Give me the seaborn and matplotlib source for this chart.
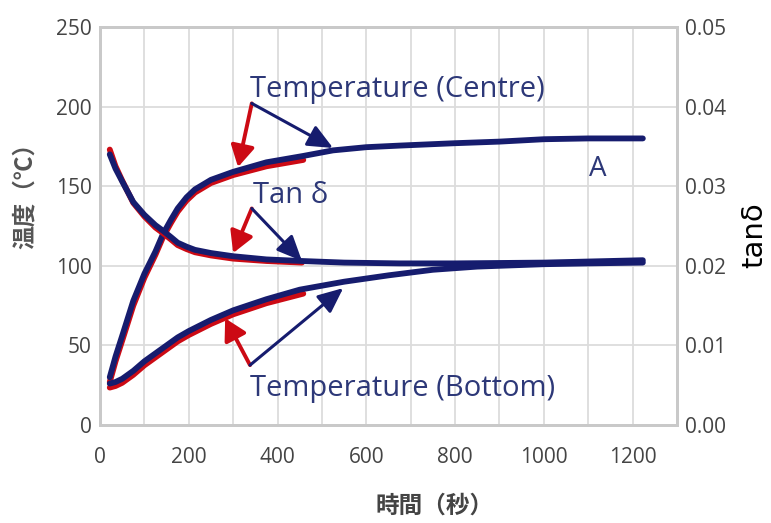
import matplotlib
matplotlib.use("Agg")
import matplotlib.pyplot as plt
import seaborn as sns

# 中心温度 (blue = model, red = measured)
t_centre = [22, 35, 50, 75, 100, 125, 142, 160, 175, 195, 214, 250, 300, 375, 458, 525, 600, 675, 800, 900, 1000, 1100, 1223]
temp_centre = [30, 43, 56, 78, 95, 109, 120, 129, 136, 143, 148, 154, 159, 165, 169, 172.5, 174.5, 175.5, 177, 178, 179.5, 180, 180]
t_centre_red = [22, 35, 50, 75, 100, 125, 142, 160, 175, 195, 214, 250, 300, 375, 458]
temp_centre_red = [27, 40, 53, 75, 92.5, 107, 118, 127, 134, 141, 146, 152, 157, 162.5, 166.5]

# 底部温度
t_bottom = [22, 35, 50, 75, 100, 125, 150, 175, 200, 250, 300, 375, 450, 550, 650, 750, 850, 1000, 1100, 1223]
temp_bottom = [26, 27, 29, 34, 40, 45, 50, 55, 59, 66, 72, 79, 85, 90, 94, 97.5, 99.5, 101, 101.5, 102]
t_bottom_red = [22, 35, 50, 75, 100, 125, 150, 175, 200, 250, 300, 375, 458]
temp_bottom_red = [23.5, 24.5, 26.5, 31.5, 37.5, 42.5, 47.5, 52.5, 56.5, 63.5, 69.5, 76.5, 82.5]

# tanδ (right axis)
t_tan = [22, 35, 50, 75, 100, 125, 142, 160, 175, 195, 214, 250, 300, 375, 455, 550, 675, 800, 1000, 1223]
tan_d = [0.034, 0.0322, 0.0306, 0.028, 0.0264, 0.0251, 0.0244, 0.0236, 0.0229, 0.0224, 0.022, 0.0216, 0.0212, 0.0208, 0.0206, 0.0204, 0.0203, 0.0203, 0.0204, 0.0207]
t_tan_red = [22, 35, 50, 75, 100, 125, 142, 160, 175, 195, 214, 250, 300, 375, 455]
tan_d_red = [0.0346, 0.0325, 0.0307, 0.0279, 0.0262, 0.0248, 0.0241, 0.0233, 0.0226, 0.0221, 0.0217, 0.0213, 0.0209, 0.0206, 0.0204]

# annotation labels: (text, text pos, arrow apex, red tip, blue tip) in left-axis units
labels = ["Temperature (Centre)", "Tan δ", "Temperature (Bottom)"]
label_pos = [(338, 211), (345, 144), (338, 23)]
apex_pos = [(342, 202), (342, 136), (338, 37.6)]
red_tips = [(311, 162), (300, 108), (282, 67)]
blue_tips = [(525, 174), (455, 103), (548, 86)]

x_ticks = [0, 200, 400, 600, 800, 1000, 1200]
y_ticks = [0, 50, 100, 150, 200, 250]
tan_ticks = [0.00, 0.01, 0.02, 0.03, 0.04, 0.05]

navy = "#161c6e"
red = "#cc0a14"
txt_navy = "#2d3878"
grey = "#c9c9c9"

sns.set_theme(style="white")
plt.rcParams["font.family"] = ["Open Sans", "DejaVu Sans"]
cjk = ["Noto Sans CJK JP", "DejaVu Sans"]

fig = plt.figure(figsize=(7.71, 5.23), dpi=100)
ax = fig.add_axes([0.1297, 0.1874, 0.7484, 0.761])
ax2 = ax.twinx()

sns.lineplot(x=t_centre_red, y=temp_centre_red, ax=ax, color=red, linewidth=4.2, zorder=3)
sns.lineplot(x=t_bottom_red, y=temp_bottom_red, ax=ax, color=red, linewidth=4.2, zorder=3)
sns.lineplot(x=t_centre, y=temp_centre, ax=ax, color=navy, linewidth=4.2, zorder=4)
sns.lineplot(x=t_bottom, y=temp_bottom, ax=ax, color=navy, linewidth=4.2, zorder=4)
sns.lineplot(x=t_tan_red, y=tan_d_red, ax=ax2, color=red, linewidth=4.2)
sns.lineplot(x=t_tan, y=tan_d, ax=ax2, color=navy, linewidth=4.2)

ax.set_xlim(0, 1300)
ax.set_ylim(0, 250)
ax2.set_ylim(0, 0.05)
ax.set_xticks(range(0, 1301, 100))
ax.set_xticklabels([str(v) if v in x_ticks else "" for v in range(0, 1301, 100)])
ax.set_yticks(y_ticks)
ax2.set_yticks(tan_ticks)
ax2.set_yticklabels([f"{v:.2f}" for v in tan_ticks])

ax.grid(True, color="#dcdcdc", linewidth=1.3)
ax.set_axisbelow(True)
for a in (ax, ax2):
    for s in a.spines.values():
        s.set_color(grey)
        s.set_linewidth(2)
ax.tick_params(axis="both", length=0, labelsize=15, labelcolor="#444444")
ax.tick_params(axis="x", pad=16)
ax.tick_params(axis="y", pad=6)
ax2.tick_params(axis="y", length=0, labelsize=15, labelcolor="#444444", pad=6)

for text, tp, ap, rt, bt in zip(labels, label_pos, apex_pos, red_tips, blue_tips):
    ax.text(tp[0], tp[1], text, fontsize=21, color=txt_navy, ha="left", va="center", zorder=6)
    ax.annotate("", xy=rt, xytext=ap, zorder=5,
                arrowprops=dict(arrowstyle="-|>,head_length=0.8,head_width=0.45", color=red,
                                lw=2.8, mutation_scale=16, shrinkA=0, shrinkB=0))
    ax.annotate("", xy=bt, xytext=ap, zorder=5,
                arrowprops=dict(arrowstyle="-|>,head_length=0.9,head_width=0.4", color=navy,
                                lw=2.2, mutation_scale=17, shrinkA=0, shrinkB=0))

ax.text(1122, 161, "A", fontsize=20, color=txt_navy, ha="center", va="center")

ax.set_xlabel("時間（秒）", family=cjk, fontsize=17, fontweight="bold", color="#444444")
ax.xaxis.set_label_coords(0.58, -0.172)
ax.set_ylabel("温度（℃）", family=cjk, fontsize=17, fontweight="bold", color="#555555")
ax.yaxis.set_label_coords(-0.109, 0.59)
ax2.set_ylabel("tanδ", fontsize=21, color="black", family=["DejaVu Sans"])
ax2.yaxis.set_label_coords(1.11, 0.478)

fig.savefig("out.png", dpi=100)
